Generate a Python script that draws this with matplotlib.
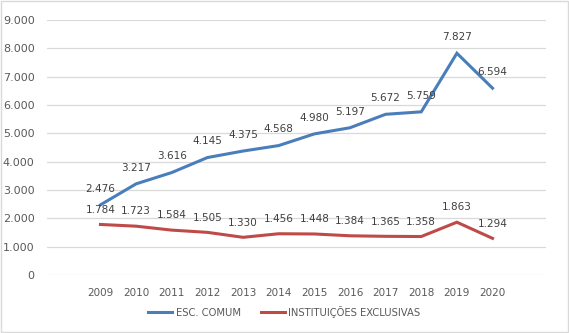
import matplotlib
matplotlib.use("Agg")
import matplotlib.pyplot as plt
from matplotlib.ticker import FuncFormatter

anos = ['2009', '2010', '2011', '2012', '2013', '2014', '2015', '2016', '2017', '2018', '2019', '2020']
esc_comum = [2476, 3217, 3616, 4145, 4375, 4568, 4980, 5197, 5672, 5759, 7827, 6594]
inst_exclusivas = [1784, 1723, 1584, 1505, 1330, 1456, 1448, 1384, 1365, 1358, 1863, 1294]


def _fmt(v):
    return f"{int(v):,}".replace(",", ".")


fig = plt.figure(figsize=(5.69, 3.33), dpi=100)
ax = fig.add_axes([47 / 569, 1 - 275 / 333, 499 / 569, 255 / 333])

x = list(range(len(anos)))
ax.plot(x, esc_comum, color='#4A7EBB', lw=2.2, label='ESC. COMUM', solid_joinstyle='miter')
ax.plot(x, inst_exclusivas, color='#BE4B48', lw=2.2, label='INSTITUIÇÕES EXCLUSIVAS', solid_joinstyle='miter')

for xi, v in zip(x, esc_comum):
    ax.annotate(_fmt(v), (xi, v), xytext=(0, 8), textcoords='offset points',
                ha='center', va='bottom', fontsize=7.5, color='#404040')
for xi, v in zip(x, inst_exclusivas):
    ax.annotate(_fmt(v), (xi, v), xytext=(0, 7), textcoords='offset points',
                ha='center', va='bottom', fontsize=7.5, color='#404040')

ax.set_xlim(-1.5, len(anos) + 0.5)
ax.set_ylim(0, 9000)
ax.set_yticks(range(0, 9001, 1000))
ax.yaxis.set_major_formatter(FuncFormatter(lambda v, p: _fmt(v)))
ax.set_xticks(x)
ax.set_xticklabels(anos)
ax.tick_params(length=0, labelsize=7.5, colors='#595959')
ax.tick_params(axis='y', pad=9, labelsize=8)
ax.tick_params(axis='x', pad=9)
ax.grid(axis='y', color='#D9D9D9', lw=0.9)
ax.set_axisbelow(True)
for s in ax.spines.values():
    s.set_visible(False)

leg = fig.legend(loc='center', bbox_to_anchor=(284.5 / 569, 1 - 312 / 333), ncol=2, frameon=False,
                 fontsize=7.2, handlelength=2.4, columnspacing=2.0, handletextpad=0.35,
                 borderaxespad=0, borderpad=0)
for t in leg.get_texts():
    t.set_color('#595959')

fig.patches.append(plt.Rectangle((0.002, 0.003), 0.996, 0.994, transform=fig.transFigure,
                                 fill=False, edgecolor='#D9D9D9', lw=1))

fig.savefig('out.png', dpi=100)
